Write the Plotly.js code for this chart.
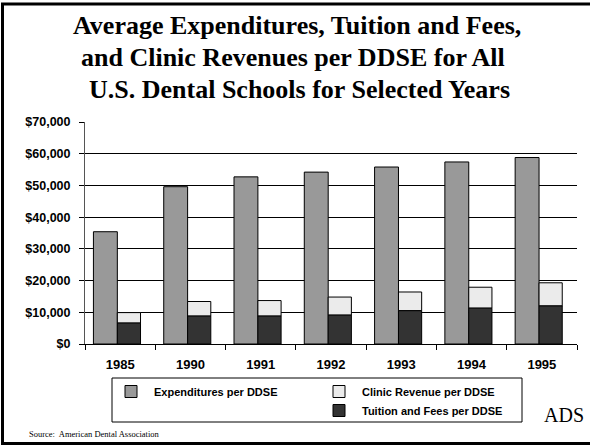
<!DOCTYPE html>
<html><head><meta charset="utf-8">
<script src="https://cdn.plot.ly/plotly-3.0.1.min.js"></script>
<style>html,body{margin:0;padding:0;background:#fff}#chart{width:590px;height:447px}</style>
</head><body><div id="chart"></div>
<script>
// ---- data ----
const years = ['1985', '1990', '1991', '1992', '1993', '1994', '1995'];
const expenditures = [35400, 49600, 52700, 54200, 55800, 57400, 58800];
const tuitionFees = [6600, 8800, 8800, 9100, 10500, 11300, 12000];
const clinicRevenue = [3300, 4600, 4900, 5700, 5900, 6600, 7300];
const seriesNames = ['Expenditures per DDSE', 'Clinic Revenue per DDSE', 'Tuition and Fees per DDSE'];
const yTickVals = [0, 10000, 20000, 30000, 40000, 50000, 60000, 70000];
const yTickText = ['$0', '$10,000', '$20,000', '$30,000', '$40,000', '$50,000', '$60,000', '$70,000'];
const titleLines = ['Average Expenditures, Tuition and Fees,', 'and Clinic Revenues per DDSE for All', 'U.S. Dental Schools for Selected Years'];
const sourceText = 'Source:  American Dental Association';

// ---- geometry ----
const W = 590, H = 447, L = 85, R = 13, T = 122, B = 103;
const px = x => (x - L) / (W - L - R);
const py = y => (H - B - y) / (H - T - B);

const sans = 'Liberation Sans';
const serif = 'Liberation Serif';
const lineStyle = {color: '#000', width: 1};

const data = [
  {type: 'bar', x: years, y: expenditures, name: seriesNames[0], offset: -0.38, width: 0.34,
   marker: {color: '#999999', line: lineStyle}, legend: 'legend', showlegend: true},
  {type: 'bar', x: years, y: clinicRevenue, base: tuitionFees, name: seriesNames[1], offset: -0.04, width: 0.33,
   marker: {color: '#ebebeb', line: lineStyle}, legend: 'legend2', showlegend: true},
  {type: 'bar', x: years, y: tuitionFees, name: seriesNames[2], offset: -0.04, width: 0.33,
   marker: {color: '#333333', line: lineStyle}, legend: 'legend2', showlegend: true}
];

const legendFont = {family: sans, size: 11, color: '#000', weight: 'bold'};
const titleCenters = [25, 57, 90];
const titleX = [297, 293, 299];
const annotations = titleLines.map((t, i) => ({
  text: '<b>' + t + '</b>', xref: 'paper', yref: 'paper', x: px(titleX[i]), y: py(titleCenters[i]),
  xanchor: 'center', yanchor: 'middle', showarrow: false,
  font: {family: serif, size: 26, color: '#000'}
}));
annotations.push(
  {text: sourceText, xref: 'paper', yref: 'paper', x: px(27), y: py(434), xanchor: 'left', yanchor: 'middle',
   showarrow: false, font: {family: serif, size: 8.5, color: '#000'}},
  {text: 'ADS', xref: 'paper', yref: 'paper', x: px(564), y: py(415), xanchor: 'center', yanchor: 'middle',
   showarrow: false, font: {family: serif, size: 20, color: '#000'}}
);

const layout = {
  width: W, height: H,
  margin: {l: L, r: R, t: T, b: B, pad: 0},
  paper_bgcolor: '#fff', plot_bgcolor: '#fff',
  barmode: 'overlay',
  showlegend: true,
  xaxis: {type: 'category', range: [-0.5, 6.5], tickson: 'boundaries', ticks: 'outside', ticklen: 5,
          tickcolor: '#000', showline: true, linecolor: '#000', linewidth: 1, showgrid: false,
          ticklabelstandoff: 8,
          tickfont: {family: sans, size: 13, color: '#000', weight: 'bold'}, fixedrange: true},
  yaxis: {range: [0, 70000], tickvals: yTickVals, ticktext: yTickText, ticks: 'outside',
          ticklen: 5, tickcolor: '#000', showline: true, linecolor: '#555', linewidth: 1,
          showgrid: true, gridcolor: '#000', gridwidth: 1, zeroline: false,
          ticklabelstandoff: 6,
          tickfont: {family: sans, size: 12.5, color: '#000', weight: 'bold'}, fixedrange: true},
  legend: {visible: true, x: px(108), y: py(377), xanchor: 'left', yanchor: 'top', xref: 'paper', yref: 'paper',
           bgcolor: 'rgba(0,0,0,0)', borderwidth: 0, font: legendFont, orientation: 'v', itemwidth: 36},
  legend2: {visible: true, x: px(316), y: py(377), xanchor: 'left', yanchor: 'top', xref: 'paper', yref: 'paper',
            bgcolor: 'rgba(0,0,0,0)', borderwidth: 0, font: legendFont, orientation: 'v', traceorder: 'normal',
            itemwidth: 36},
  shapes: [
    {type: 'rect', xref: 'paper', yref: 'paper', x0: px(112), x1: px(522), y0: py(422), y1: py(378),
     line: {color: '#000', width: 1}, fillcolor: 'rgba(0,0,0,0)'},
    {type: 'rect', xref: 'paper', yref: 'paper', x0: px(2.5), x1: px(620), y0: py(443.5), y1: py(4),
     line: {color: '#000', width: 3}, fillcolor: 'rgba(0,0,0,0)'}
  ],
  annotations: annotations
};

Plotly.newPlot('chart', data, layout, {displayModeBar: false, staticPlot: true});
</script>
</body></html>
